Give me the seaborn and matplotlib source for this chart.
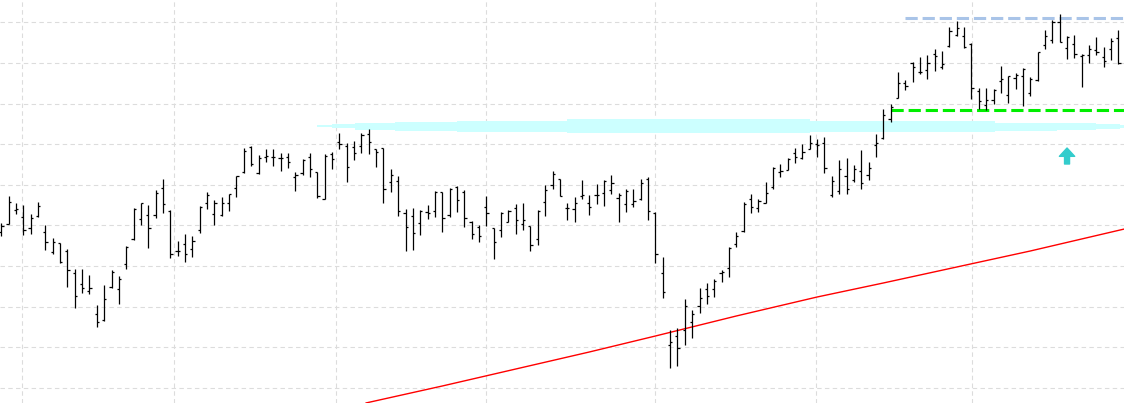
"""
OHLC bar chart with moving average, support band and level lines.
"""

import matplotlib

matplotlib.use("Agg")
import matplotlib.pyplot as plt
import numpy as np
import pandas as pd
import seaborn as sns
from matplotlib.ticker import FixedLocator, MultipleLocator

sns.set_theme(style="white")

# price data, one value per bar
opens = [168, 176, 190, 183, 172, 184, 168, 148, 157, 149, 127, 116, 109, 86, 80, 113, 111, 136, 161, 181,
         185, 185, 212, 189, 149, 156, 151, 170, 197, 186, 185, 197, 212, 228, 253, 227, 243, 243, 242, 243,
         223, 227, 243, 228, 201, 246, 258, 254, 253, 254, 266, 251, 252, 218, 219, 187, 184, 177, 188, 189,
         208, 185, 213, 208, 178, 173, 193, 172, 170, 178, 192, 176, 174, 161, 198, 215, 221, 192, 191, 204,
         197, 205, 207, 210, 202, 196, 196, 201, 221, 187, 127, 55, 64, 70, 78, 94, 111, 111, 127, 132,
         156, 169, 201, 192, 197, 213, 228, 230, 247, 242, 251, 256, 257, 205, 209, 224, 220, 229, 225, 255,
         262, 281, 302, 317, 337, 328, 330, 346, 333, 354, 365, 364, 356, 309, 295, 300, 319, 305, 322, 324,
         307, 320, 355, 360, 378, 352, 356, 344, 345, 350, 343, 351, 362]
highs = [177, 204, 197, 195, 186, 198, 175, 162, 157, 151, 131, 131, 125, 95, 115, 130, 124, 154, 192, 197,
         195, 210, 221, 190, 159, 166, 164, 194, 208, 200, 203, 206, 224, 252, 254, 245, 251, 251, 247, 247,
         228, 241, 247, 228, 246, 248, 267, 257, 259, 267, 271, 251, 252, 231, 224, 191, 192, 190, 195, 209,
         208, 212, 214, 210, 179, 175, 204, 172, 188, 190, 196, 197, 174, 190, 215, 229, 221, 197, 203, 220,
         205, 216, 220, 225, 207, 211, 211, 221, 223, 188, 143, 70, 72, 101, 90, 112, 117, 121, 130, 153,
         168, 198, 206, 201, 218, 233, 236, 242, 252, 256, 265, 261, 263, 224, 240, 242, 235, 250, 238, 266,
         291, 296, 328, 320, 338, 343, 345, 351, 349, 373, 379, 373, 357, 312, 312, 311, 334, 324, 327, 332,
         323, 348, 370, 380, 386, 364, 365, 346, 355, 363, 353, 362, 370]
lows = [164, 176, 186, 165, 166, 183, 150, 146, 137, 113, 92, 107, 106, 73, 79, 112, 96, 131, 160, 175,
        152, 182, 187, 142, 144, 138, 143, 167, 191, 175, 184, 189, 203, 227, 234, 226, 238, 234, 229, 232,
        209, 225, 223, 202, 201, 231, 251, 218, 240, 247, 246, 233, 197, 208, 184, 149, 150, 165, 181, 183,
        168, 183, 188, 173, 161, 158, 174, 141, 163, 178, 166, 170, 149, 155, 184, 211, 204, 180, 178, 201,
        185, 196, 194, 206, 178, 188, 193, 200, 180, 137, 102, 32, 34, 55, 62, 87, 96, 103, 118, 123,
        153, 168, 187, 188, 197, 211, 223, 230, 237, 241, 251, 243, 227, 203, 206, 206, 218, 211, 220, 243,
        261, 278, 302, 310, 318, 326, 321, 329, 331, 353, 364, 352, 301, 291, 290, 296, 307, 297, 311, 294,
        304, 319, 351, 357, 358, 341, 342, 313, 337, 345, 333, 340, 336]
closes = [174, 198, 191, 170, 182, 194, 158, 158, 138, 130, 104, 112, 112, 78, 101, 128, 121, 153, 191, 197,
          172, 207, 196, 146, 149, 146, 159, 193, 205, 197, 197, 206, 224, 249, 236, 242, 244, 243, 242, 238,
          225, 240, 231, 204, 244, 241, 256, 233, 247, 265, 258, 248, 211, 225, 189, 173, 167, 189, 187, 208,
          182, 211, 200, 182, 166, 164, 187, 158, 187, 189, 180, 180, 155, 189, 210, 226, 204, 192, 197, 205,
          193, 205, 219, 217, 205, 209, 199, 217, 189, 146, 108, 58, 52, 94, 86, 102, 104, 119, 128, 152,
          164, 196, 193, 199, 207, 232, 229, 241, 243, 248, 257, 255, 232, 219, 231, 211, 231, 217, 232, 257,
          285, 293, 317, 314, 333, 328, 337, 344, 336, 369, 372, 353, 312, 299, 300, 310, 321, 324, 325, 331,
          321, 348, 364, 378, 358, 363, 346, 345, 351, 348, 339, 359, 337]

# moving average, read at a few bars
ma_bar = [49.6, 60, 70, 80, 89, 100, 111, 120, 130, 140, 152.8]
ma_val = [-3, 14, 31, 48, 64, 84, 103, 117, 133, 149, 171]

# support zone (cyan band)
band_x = [42.95, 45.0, 48.1, 53.6, 62.0, 77.0, 110.0, 135.2, 143.6, 148.9, 152.2, 152.8]
band_top = [275.3, 276.0, 276.7, 278.0, 279.0, 280.6, 279.3, 277.3, 276.7, 276.0, 274.7, 274.7]
band_bot = [272.7, 271.7, 270.0, 269.0, 268.0, 266.8, 268.0, 269.3, 270.0, 271.0, 272.3, 272.3]

# level lines
top_level, top_start = 382.3, 122.9
green_level, green_start = 289.7, 121.0
arrow_bar, arrow_base, arrow_tip = 145.0, 236, 252

# month separators
month_starts = [2.86, 23.5, 45.5, 65.9, 89.0, 110.8, 132.1]

df = pd.DataFrame({"open": opens, "high": highs, "low": lows, "close": closes})
df["bar"] = np.arange(len(df))
ma = pd.DataFrame({"bar": ma_bar, "value": ma_val})

fig = plt.figure(figsize=(11.24, 4.03), dpi=100)
ax = fig.add_axes([0, 0, 1, 1])

# grid
ax.yaxis.set_major_locator(MultipleLocator(40.6, offset=12.3))
ax.xaxis.set_major_locator(FixedLocator(month_starts))
ax.grid(True, color="#dcdcdc", linestyle=(0, (4, 3)), linewidth=0.8)
ax.tick_params(left=False, bottom=False, labelleft=False, labelbottom=False)
for s in ax.spines.values():
    s.set_visible(False)

# support band
ax.fill_between(band_x, band_bot, band_top, step="post", color="#ccffff", linewidth=0, zorder=1)

# OHLC bars
tick = 0.3
ax.vlines(df["bar"], df["low"], df["high"], color="black", linewidth=0.9, zorder=3)
ax.hlines(df["open"], df["bar"] - tick, df["bar"], color="black", linewidth=0.9, zorder=3)
ax.hlines(df["close"], df["bar"], df["bar"] + tick, color="black", linewidth=0.9, zorder=3)

# moving average
sns.lineplot(data=ma, x="bar", y="value", color="red", linewidth=1.0, ax=ax, zorder=2)

# level lines
ax.hlines(top_level, top_start, 153, color="#a9c4e8", linewidth=2.2, linestyles=(0, (4, 1.6)), zorder=2)
ax.hlines(green_level, green_start, 153, color="#00ee00", linewidth=2.2, linestyles=(0, (4, 1.6)), zorder=2)

# up arrow
ax.annotate("", xy=(arrow_bar, arrow_tip), xytext=(arrow_bar, arrow_base),
            arrowprops=dict(arrowstyle="simple,head_length=0.6,head_width=1.1,tail_width=0.36",
                            color="#33cccc", shrinkA=0, shrinkB=0, mutation_scale=10))

ax.set_xlim(-0.177, 152.75)
ax.set_ylim(-3, 400)
ax.set(xlabel=None, ylabel=None)

plt.savefig("out.png", dpi=100)
